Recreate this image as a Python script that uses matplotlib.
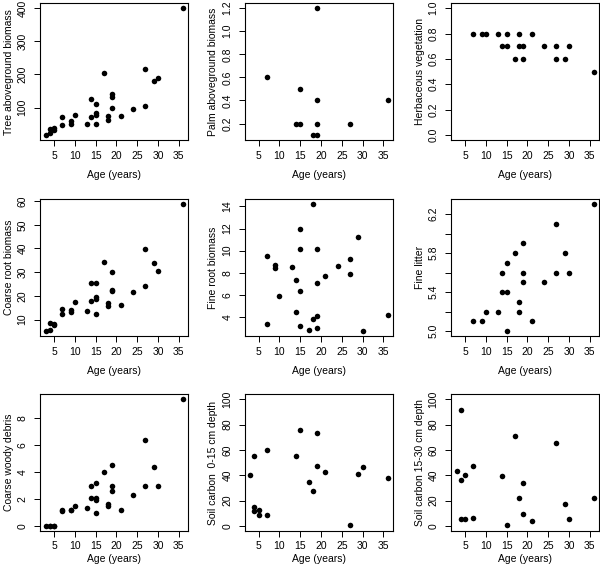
import numpy as np
import matplotlib
matplotlib.use('Agg')
import matplotlib.pyplot as plt

plt.rcParams['font.family'] = ['Liberation Sans', 'DejaVu Sans']

# ages shared by the tree / coarse root / woody debris panels
age_tree = [3, 4, 4, 5, 5, 7, 7, 9, 9, 10, 13, 14, 14, 15, 15, 15, 15, 17, 18, 18,
            19, 19, 19, 21, 24, 27, 27, 29, 30, 36]
tree_agb = [17, 24, 34, 37, 32, 71, 47, 58, 51, 79, 51, 127, 70, 111, 84, 79, 50, 203,
            75, 62, 141, 133, 100, 76, 97, 216, 105, 179, 190, 400]
coarse_root = [5.1, 5.7, 8.5, 8.2, 7.6, 14.5, 12.5, 14, 13, 17.3, 13.4, 25.3, 18, 25.3,
               19.5, 18.7, 12.4, 34.4, 17.1, 15.6, 29.9, 22.6, 22.2, 16.3, 21.5, 39.7,
               24, 34, 30.4, 58.7]
woody_debris = [0, 0, 0, 0, 0, 1.2, 1.1, 1.2, 1.18, 1.5, 1.3, 3.0, 2.1, 3.2, 2.1, 1.9,
                1.0, 4.0, 1.6, 1.5, 4.5, 3.0, 2.6, 1.2, 2.3, 6.4, 3.0, 4.4, 3.0, 9.4]

age_palm = [7, 14, 15, 15, 18, 19, 19, 19, 19, 27, 36]
palm_agb = [0.6, 0.2, 0.2, 0.5, 0.1, 0.1, 1.2, 0.4, 0.2, 0.2, 0.4]

age_herb = [7, 9, 10, 13, 15, 18, 21, 14, 15, 18, 19, 24, 27, 30, 17, 19, 27, 29, 36]
herb_veg = [0.8, 0.8, 0.8, 0.8, 0.8, 0.8, 0.8, 0.7, 0.7, 0.7, 0.7, 0.7, 0.7, 0.7,
            0.6, 0.6, 0.6, 0.6, 0.5]

age_fine = [7, 7, 9, 9, 10, 13, 14, 14, 15, 15, 15, 15, 17, 18, 18, 19, 19, 19, 19,
            21, 24, 27, 27, 29, 30, 36]
fine_root = [9.5, 3.3, 8.7, 8.4, 5.9, 8.5, 7.3, 4.4, 12.0, 10.1, 6.3, 3.2, 2.8, 14.2,
             3.8, 10.1, 7.1, 4.1, 3.0, 7.7, 8.6, 9.2, 7.9, 11.2, 2.7, 4.2]

age_litter = [7, 9, 10, 13, 14, 14, 15, 15, 15, 17, 18, 18, 19, 19, 19, 21, 24, 27,
              27, 29, 30, 36]
fine_litter = [5.1, 5.1, 5.2, 5.2, 5.6, 5.4, 5.7, 5.4, 5.0, 5.8, 5.3, 5.2, 5.9, 5.6,
               5.5, 5.1, 5.5, 6.1, 5.6, 5.8, 5.6, 6.3]

age_soil = [3, 4, 4, 4, 5, 5, 7, 7, 14, 15, 17, 18, 19, 19, 21, 27, 29, 30, 36]
soil_0_15 = [40, 55.5, 15, 11.5, 12.5, 8.5, 60, 9, 55, 75.3, 35, 27.7, 73.5, 47, 42.5,
             0.5, 40.8, 46.5, 37.8]
soil_15_30 = [43.7, 91.2, 36.5, 5.5, 40.5, 5.5, 47, 6.3, 39.2, 1, 71.3, 22.1, 34.2,
              9.7, 3.7, 65.8, 17.6, 5.5, 22.1]

x_ticks = [5, 10, 15, 20, 25, 30, 35]


def rlim(lo, hi):
    # R-style 4% padding
    d = (hi - lo) * 0.04
    return lo - d, hi + d


panels = [
    (age_tree, tree_agb, 'Tree aboveground biomass', None, [100, 200, 300, 400], None),
    (age_palm, palm_agb, 'Palm aboveground biomass', None,
     [0.2, 0.4, 0.6, 0.8, 1.0, 1.2], ['0.2', '0.4', '0.6', '0.8', '1.0', '1.2']),
    (age_herb, herb_veg, 'Herbaceous vegetation', (0, 1),
     [0, 0.2, 0.4, 0.6, 0.8, 1.0], ['0.0', '0.2', '0.4', '0.6', '0.8', '1.0']),
    (age_tree, coarse_root, 'Coarse root biomass', None, [10, 20, 30, 40, 50, 60], None),
    (age_fine, fine_root, 'Fine root biomass', None, [4, 6, 8, 10, 12, 14], None),
    (age_litter, fine_litter, 'Fine litter', None,
     [5.0, 5.2, 5.4, 5.6, 5.8, 6.0, 6.2], ['5.0', '', '5.4', '', '5.8', '', '6.2']),
    (age_tree, woody_debris, 'Coarse woody debris', None, [0, 2, 4, 6, 8], None),
    (age_soil, soil_0_15, 'Soil carbon  0-15 cm depth', (0, 100),
     [0, 20, 40, 60, 80, 100], None),
    (age_soil, soil_15_30, 'Soil carbon 15-30 cm depth', (0, 100),
     [0, 20, 40, 60, 80, 100], None),
]

fig = plt.figure(figsize=(6.0, 5.65), dpi=100)
lefts = [0.067, 0.408, 0.752]
bottoms = [0.752, 0.405, 0.060]
w, h = 0.247, 0.2425

xlim = rlim(min(age_tree), max(age_tree))

for i, (ax_age, vals, label, ylim, yt, ytl) in enumerate(panels):
    row = i // 3
    ax = fig.add_axes([lefts[i % 3], bottoms[row], w, h])
    ax.plot(ax_age, vals, 'o', color='black', markersize=4.0, markeredgewidth=0)
    ax.set_xlim(xlim)
    if ylim is None:
        ylim = (min(vals), max(vals))
    ax.set_ylim(rlim(*ylim))
    ax.set_xticks(x_ticks)
    ax.set_yticks(yt)
    if ytl is not None:
        ax.set_yticklabels(ytl)
    for lab in ax.get_yticklabels():
        lab.set_rotation(90)
        lab.set_va('center')
    ax.tick_params(direction='out', length=4, width=0.7, labelsize=7.5,
                   colors='black')
    ax.tick_params(axis='x', pad=4 if row < 2 else 3)
    ax.tick_params(axis='y', pad=5)
    for s in ax.spines.values():
        s.set_linewidth(0.8)
    ax.set_xlabel('Age (years)', fontsize=7.5, labelpad=6 if row < 2 else 2.5)
    ax.set_ylabel(label, fontsize=7.5, labelpad=3)

fig.savefig('out.png', dpi=100)
